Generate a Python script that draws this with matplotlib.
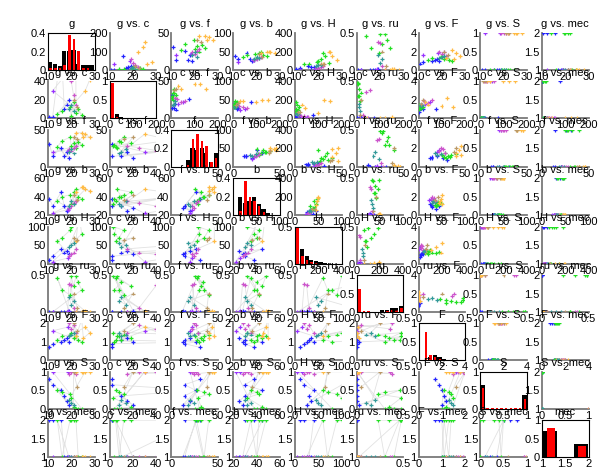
import matplotlib
matplotlib.use("Agg")
import matplotlib.pyplot as plt

plt.rcParams['font.family'] = ['Liberation Sans', 'DejaVu Sans']
plt.rcParams['font.size'] = 8

names = ['g', 'c', 'f', 'b', 'H', 'ru', 'F', 'S', 'mec']

# one entry per sample
groups = (['blue'] * 6 + ['green'] * 8 + ['purple'] * 2 + ['magenta'] * 4
          + ['orange'] * 5 + ['teal'] * 3 + ['tan'] * 2)
g = [10.6, 12, 15.7, 17, 18, 19, 14, 16, 19.5, 20, 21, 22, 23, 24.5,
     12, 18.5, 19, 20, 21, 22, 22, 24.5, 25.2, 28, 26, 19, 20, 21, 21, 22.5]
c = [2, 2, 76, 10, 15, 20, 5, 8, 12, 3, 18, 6, 10, 4,
     30, 50, 58, 40, 25, 15, 99, 123, 150, 42, 30, 10, 14, 8, 20, 12]
f = [31, 14, 26, 14, 20, 12, 27, 35, 40, 28, 32, 25, 34, 30,
     20, 22, 24, 22, 26, 28, 46, 46, 40, 40, 44, 20, 24, 18, 40, 38]
b = [38, 30, 45, 30, 25, 28, 35, 40, 42, 32, 45, 48, 40, 38,
     22, 26, 28, 30, 33, 35, 45, 50, 50, 46, 48, 30, 35, 32, 42, 36]
H = [10, 20, 40, 30, 35, 25, 60, 70, 90, 100, 120, 180, 150, 80,
     5, 15, 20, 25, 30, 40, 60, 200, 190, 110, 150, 45, 50, 55, 70, 65]
ru = [0, 0, 0, 0, 0, 0.02, 0.46, 0.3, 0.23, 0.48, 0.35, 0.48, 0.4, 0.3,
      0, 0.01, 0.38, 0.36, 0.05, 0, 0, 0, 0.02, 0, 0.01, 0.2, 0.1, 0.15, 0.25, 0.05]
F = [0.7, 0.9, 1.0, 1.1, 1.2, 1.0, 1.1, 1.3, 1.4, 1.5, 1.2, 1.3, 1.1, 1.0,
     1.6, 1.8, 2.0, 1.7, 1.9, 1.5, 1.3, 2.2, 1.2, 1.5, 1.8, 1.3, 1.4, 1.5, 2.0, 1.6]
S = [0, 0, 0, 0, 0, 0, 0, 0, 0, 0, 0, 0, 0, 0,
     1, 1, 1, 1, 1, 1, 1, 1, 1, 1, 1, 0, 0, 0, 1, 1]
mec = [2, 2, 2, 1, 1, 1, 2, 1, 2, 2, 2, 2, 1, 1,
       1, 1, 1, 1, 1, 1, 1, 1, 1, 1, 1, 1, 1, 1, 1, 1]
# S as drawn in the lower panels
S_low = [0.8, 0.65, 0.5, 0.35, 0.2, 0.1, 0.5, 0.45, 0.4, 0.3, 0.05, 0, 0, 0,
         1, 1, 0.95, 1, 1, 0.95, 1, 1, 1, 1, 1, 0.25, 0.15, 0.1, 1, 0.6]

data_up = [g, c, f, b, H, ru, F, S, mec]
data_low = [g, c, f, b, H, ru, F, S_low, mec]

# axis ranges and ticks
up_lim = [(10, 30), (0, 200), (0, 50), (0, 100), (0, 400), (0, 0.5), (0, 4), (0, 1), (1, 2)]
up_ticks = [[10, 20, 30], [0, 100, 200], [0, 50], [0, 50, 100], [0, 200, 400],
            [0, 0.5], [0, 2, 4], [0, 0.5, 1], [1, 1.5, 2]]
low_lim = [(10, 30), (0, 40), (0, 50), (20, 60), (0, 100), (0, 0.5), (0, 2), (0, 1), (1, 2)]
low_ticks = [[10, 20, 30], [0, 20, 40], [0, 50], [20, 40, 60], [0, 50, 100],
             [0, 0.5], [0, 1, 2], [0, 0.5, 1], [1, 1.5, 2]]

# histograms (black = all, red = subset)
hist_black = [
    [0.09, 0.06, 0.04, 0.20, 0.21, 0.22, 0.07, 0.05, 0.05, 0.05],
    [0.30, 0.12, 0.05, 0.02, 0.01, 0.01, 0, 0, 0, 0.01],
    [0, 0, 0, 0.07, 0.20, 0.18, 0.20, 0.15, 0.05, 0.15],
    [0, 0.20, 0.13, 0.15, 0.20, 0.12, 0.07, 0.02, 0, 0],
    [0.30, 0.20, 0.10, 0.05, 0.03, 0.02, 0.01, 0, 0, 0],
    [0.50, 0, 0, 0, 0, 0.05, 0.05, 0.10, 0.10, 0.15],
    [0, 0, 0.10, 0.15, 0.10, 0.05, 0.02, 0, 0, 0],
    [0.65, 0, 0, 0, 0, 0, 0, 0, 0, 0.37],
    [0.70, 0, 0.37],
]
hist_red = [
    [0.02, 0.02, 0.02, 0.05, 0.38, 0.33, 0.20, 0.02, 0.02, 0],
    [0.95, 0.05, 0.02, 0.01, 0, 0, 0, 0, 0, 0],
    [0, 0, 0, 0.02, 0.30, 0.35, 0.28, 0.22, 0.05, 0.10],
    [0, 0.05, 0.37, 0.20, 0.15, 0.10, 0.03, 0, 0, 0],
    [0.50, 0.10, 0.05, 0.02, 0.01, 0, 0, 0, 0, 0],
    [0.62, 0.02, 0.02, 0.01, 0.01, 0.01, 0.02, 0.05, 0.05, 0.10],
    [0, 0.78, 0.15, 0.10, 0.05, 0.02, 0, 0, 0, 0],
    [0.55, 0.03, 0.03, 0.03, 0.03, 0.03, 0.03, 0.03, 0.03, 0.27],
    [0.78, 0, 0.30],
]
hist_ylim = [0.4, 1, 0.4, 0.4, 0.5, 1, 1, 1, 1]
hist_yticks = [[0, 0.2, 0.4], [0, 0.5, 1], [0, 0.2, 0.4], [0, 0.2, 0.4], [0, 0.5],
               [0, 0.5, 1], [0, 0.5, 1], [0, 0.5, 1], [0, 0.5, 1]]

palette = {'blue': '#2323ff', 'green': '#22e022', 'purple': '#9933ff',
           'magenta': '#cc55cc', 'orange': '#ffbb44', 'teal': '#339999',
           'tan': '#bb9966'}
colors = [palette[k] for k in groups]


def fmt(v):
    return '%g' % v


def set_ticks(ax, xt, yt):
    ax.set_xticks(xt)
    ax.set_xticklabels([fmt(t) for t in xt])
    ax.set_yticks(yt)
    ax.set_yticklabels([fmt(t) for t in yt])
    ax.tick_params(length=0, pad=1.5, labelsize=8)


fig = plt.figure(figsize=(5.98, 4.70), dpi=100)
W, Hpx = 598.0, 470.0
n = len(names)

for r in range(n):
    for col in range(n):
        left = 48 + 61.75 * col
        top = 33 + 48.4 * r
        ax = fig.add_axes([left / W, 1 - (top + 37) / Hpx, 46.5 / W, 37 / Hpx])
        ax.patch.set_alpha(0)
        if r == col:
            lo, hi = up_lim[r]
            nb = len(hist_black[r])
            bw = (hi - lo) / nb
            centers = [lo + bw * (i + 0.5) for i in range(nb)]
            ax.bar(centers, hist_black[r], width=bw * 0.9, color='black')
            ax.bar([x + bw * 0.08 for x in centers], hist_red[r], width=bw * 0.55,
                   color='red')
            ax.set_xlim(lo, hi)
            ax.set_ylim(0, hist_ylim[r])
            set_ticks(ax, up_ticks[r], hist_yticks[r])
            for s in ax.spines.values():
                s.set_color('black')
                s.set_linewidth(0.8)
            ax.set_title(names[r], pad=4, fontsize=8)
            continue
        for s in ['top', 'right']:
            ax.spines[s].set_visible(False)
        for s in ['left', 'bottom']:
            ax.spines[s].set_color('#7a7a7a')
            ax.spines[s].set_linewidth(1.3)
        if r < col:
            x, y = data_up[r], data_up[col]
            ax.scatter(x, y, c=colors, marker='+', s=8, linewidths=0.9, zorder=3)
            ax.set_xlim(*up_lim[r])
            ax.set_ylim(*up_lim[col])
            set_ticks(ax, up_ticks[r], up_ticks[col])
            ax.set_title('%s vs. %s' % (names[r], names[col]), pad=4, fontsize=8)
        else:
            x, y = data_low[col], data_low[r]
            ax.plot(x, y, color='#e2e2e2', lw=0.6, zorder=1)
            ax.scatter(x, y, c=colors, marker='+', s=8, linewidths=0.9, zorder=3)
            ax.set_xlim(*low_lim[col])
            ax.set_ylim(*low_lim[r])
            set_ticks(ax, low_ticks[col], low_ticks[r])
            ax.set_title('%s vs. %s' % (names[col], names[r]), pad=4, fontsize=8)

fig.savefig('out.png', dpi=100)
